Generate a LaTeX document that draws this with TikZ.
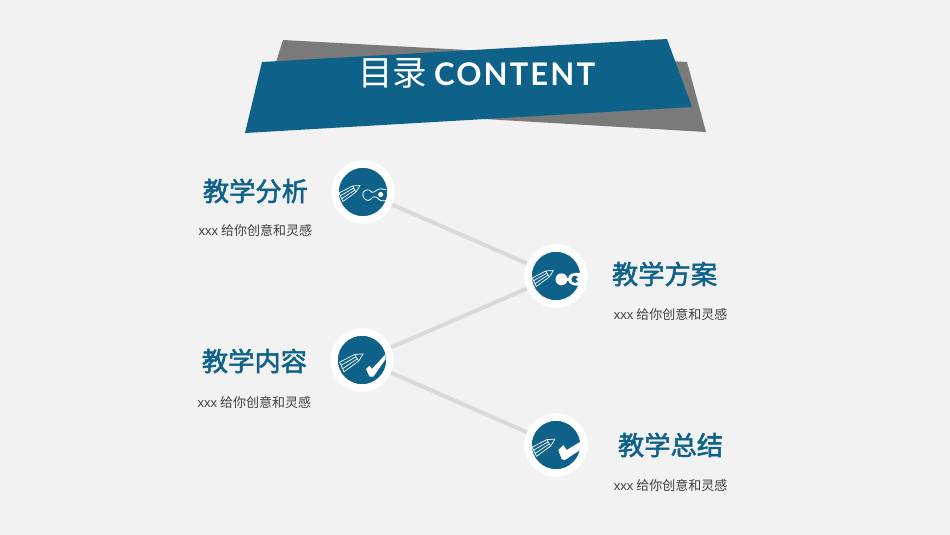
\documentclass[tikz,border=0pt]{standalone}
\usepackage{fontspec}
\usetikzlibrary{positioning}
\newfontfamily\cjk{Noto Sans CJK SC}
\newfontfamily\cjkhead[FakeBold=2]{Noto Sans CJK SC}
\newfontfamily\capsfont[LetterSpace=6.5]{Lato}
\newfontfamily\arialfont{Liberation Sans}
\definecolor{pageback}{HTML}{F2F2F2}
\definecolor{ribbon}{HTML}{0E628A}
\definecolor{ribbonback}{HTML}{7A7A7A}
\definecolor{linkgray}{HTML}{D9D9D9}
\definecolor{subtext}{HTML}{404040}
\tikzset{
  hub/.style={
    circle,
    fill=ribbon,
    draw=white,
    line width=7.5pt,
    inner sep=0pt,
    minimum size=56pt},
  link/.style={draw=linkgray, line width=4pt},
  headline/.style={
    text=ribbon,
    inner sep=0pt,
    font=\cjkhead\fontsize{26.3}{26.3}\selectfont},
  tagline/.style={
    text=subtext,
    inner sep=0pt,
    font=\cjk\fontsize{13}{13}\selectfont},
  pics/penicon/.style={code={
    \draw[white, line width=.7pt, line join=round]
      (-3,-6.5) -- (-10.5,-6) -- (-24,1) -- (-20,9.5) -- (-7,0) -- cycle
      (-10.5,-6) -- (-7,0)
      (-22.7,3.8) -- (-9.3,-4)
      (-21.3,6.7) -- (-8.2,-2);
  }},
  pics/ringicon/.style={code={
    \draw[white, line width=.8pt]
      (23,-2.2) .. controls (20,-3.5) and (16,-3.5) .. (14.3,-2.2)
      .. controls (12,-.5) and (10,1.2) .. (8.7,.2)
      .. controls (7,-2.5) and (3,-3.5) .. (.3,.2)
      .. controls (-1.5,3) and (1,8.5) .. (5.3,8.5)
      .. controls (7.5,8.5) and (8.5,6) .. (9.7,5.2)
      .. controls (11,4.5) and (13,4.5) .. (14.3,5.8)
      .. controls (16,8.5) and (20,9.5) .. (23,8.5);
    \fill[white] (17.7,2.5) circle (2.6pt);
  }},
  pics/clampicon/.style={code={
    \fill[white] (5.5,3.3) circle (6pt);
    \fill[white] (9,1.5) rectangle (14,5);
    \fill[white] (12,3.3) .. controls (12,-2) and (17,-3.7) .. (24,-3)
      -- (24,9.7) .. controls (17,10) and (12,8) .. (12,3.3) -- cycle;
    \fill[ribbon] (19,3.3) circle (3.6pt);
    \fill[white] (21.5,3.3) circle (1.7pt);
  }},
  pics/tickicon/.style={code={
    \fill[white] (4,9) -- (7.5,5.5) -- (10,9) -- (23.7,-6) -- (23.7,-1)
      -- (11.5,16.5) -- (7.5,16.5) -- cycle;
  }},
  pics/heavytick/.style={code={
    \fill[white] (2.3,5) -- (7.3,0) -- (10.7,5) -- (24,-3) -- (24,5)
      -- (9,15) -- (5.7,14.3) -- cycle;
  }},
}
\begin{document}
\begin{tikzpicture}[x=1pt,y=-1pt]
  \useasboundingbox (0,0) rectangle (950,535);
  \fill[pageback] (0,0) rectangle (950,535);
  % the two crossed ribbons
  \fill[ribbonback] (283,40) -- (687,62) -- (706,132) -- (262,106) -- cycle;
  \fill[ribbon] (262,62) -- (667,39) -- (692,107) -- (245,133) -- cycle;
  \node[text=white, inner sep=0pt, anchor=west] (heading) at (358,73.5)
    {\cjk\fontsize{34.5}{34.5}\selectfont 目录\hspace{7pt}\capsfont\bfseries\fontsize{31.2}{31.2}\selectfont CONTENT};
  % hubs first, links are put behind them afterwards
  \node[hub] (analysis) at (363,192) {};
  \node[hub] (plan) at (556,276) {};
  \node[hub] (content) at (362,360) {};
  \node[hub] (summary) at (556,445) {};
  \draw[link] (analysis) -- (plan);
  \draw[link] (plan) -- (content);
  \draw[link] (content) -- (summary);
  % icons
  \pic at (analysis) {penicon};
  \pic at (analysis) {ringicon};
  \pic[xshift=.3pt, yshift=-1pt] at (plan) {penicon};
  \pic at (plan) {clampicon};
  \pic[scale=1.12, xshift=4pt, yshift=-1pt] at (content) {penicon};
  \pic at (content) {tickicon};
  \pic[scale=1.08, xshift=2pt, yshift=-1pt] at (summary) {penicon};
  \pic at (summary) {heavytick};
  % labels
  \node[headline, left=23pt of analysis, yshift=1pt] (analysistitle) {教学分析};
  \node[tagline, below=21pt of analysistitle] (analysistag) {{\arialfont xxx} 给你创意和灵感};
  \node[headline, right=24pt of plan, yshift=2pt] (plantitle) {教学方案};
  \node[tagline, below=21.5pt of plantitle, xshift=6pt] (plantag) {{\arialfont xxx} 给你创意和灵感};
  \node[headline, left=23pt of content, yshift=-1pt] (contenttitle) {教学内容};
  \node[tagline, below=22.5pt of contenttitle] (contenttag) {{\arialfont xxx} 给你创意和灵感};
  \node[headline, right=30pt of summary] (summarytitle) {教学总结};
  \node[tagline, below=21.5pt of summarytitle] (summarytag) {{\arialfont xxx} 给你创意和灵感};
\end{tikzpicture}
\end{document}
